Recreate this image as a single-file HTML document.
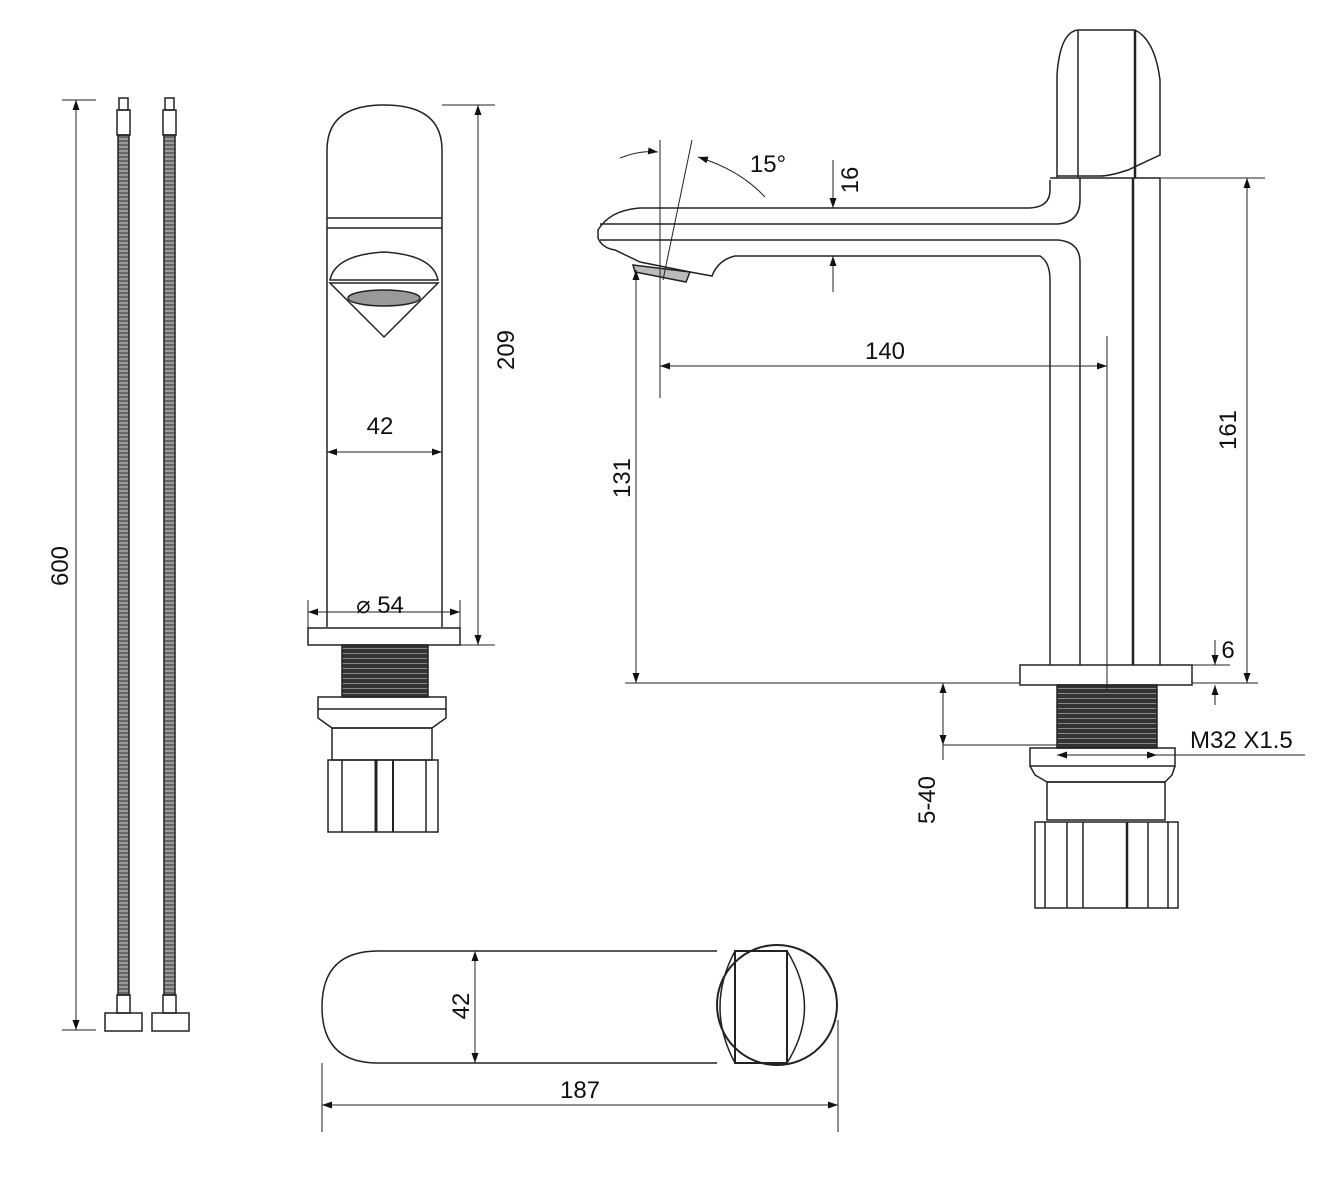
<!DOCTYPE html>
<html><head><style>html,body{margin:0;padding:0;background:#fff}svg{display:block}text{font-family:"Liberation Sans",sans-serif;font-size:24px;fill:#111}</style></head><body>
<svg width="1338" height="1204" viewBox="0 0 1338 1204" xmlns="http://www.w3.org/2000/svg">
<defs>
<marker id="a" viewBox="0 0 10 10" refX="10" refY="5" markerWidth="10" markerHeight="10" orient="auto-start-reverse" markerUnits="userSpaceOnUse"><path d="M0,1.5L10,5L0,8.5z" fill="#111"/></marker>
<pattern id="th" width="8" height="5" patternUnits="userSpaceOnUse"><rect width="8" height="5" fill="#333"/><rect y="3" width="8" height="1" fill="#888"/></pattern>
<pattern id="hose" width="4" height="4" patternUnits="userSpaceOnUse"><rect width="4" height="4" fill="#999"/><rect width="4" height="2" fill="#666"/></pattern>
</defs>
<g fill="none" stroke="#222" stroke-width="1.5">
<!-- hoses -->
<line x1="62" y1="100" x2="96" y2="100" stroke-width="1"/><line x1="62" y1="1030" x2="96" y2="1030" stroke-width="1"/>
<line x1="76" y1="100" x2="76" y2="1030" stroke-width="1" marker-start="url(#a)" marker-end="url(#a)"/>
<rect x="118" y="135" width="11" height="860" fill="url(#hose)"/>
<rect x="164" y="135" width="11" height="860" fill="url(#hose)"/>
<rect x="119" y="98" width="9" height="12"/><rect x="165" y="98" width="9" height="12"/>
<rect x="117" y="110" width="13" height="25"/><rect x="163" y="110" width="13" height="25"/>
<rect x="117" y="995" width="13" height="18"/><rect x="163" y="995" width="13" height="18"/>
<rect x="105" y="1013" width="37" height="18"/><rect x="152" y="1013" width="37" height="18"/>
<!-- front view -->
<path d="M327,627 L327,150 Q327,105 384,105 Q442,105 442,150 L442,627"/>
<line x1="327" y1="218" x2="442" y2="218"/><line x1="327" y1="228" x2="442" y2="228"/>
<path d="M330,280 Q335,255 384,252 Q433,255 438,280 Z"/>
<path d="M330,283 L438,283 L384,337 Z"/>
<ellipse cx="384" cy="298" rx="36" ry="8" fill="#999"/>
<rect x="308" y="628" width="152" height="17"/>
<rect x="342" y="645" width="86" height="52" fill="url(#th)"/>
<rect x="318" y="697" width="128" height="12"/>
<path d="M318,709 L318,718 L332,728 L432,728 L446,718 L446,709"/>
<rect x="332" y="728" width="100" height="32"/>
<rect x="328" y="760" width="110" height="72"/>
<line x1="342" y1="760" x2="342" y2="832"/><line x1="376" y1="760" x2="376" y2="832" stroke-width="3"/><line x1="393" y1="760" x2="393" y2="832" stroke-width="2"/><line x1="426" y1="760" x2="426" y2="832"/>
<line x1="442" y1="105" x2="495" y2="105" stroke-width="1"/><line x1="460" y1="645" x2="495" y2="645" stroke-width="1"/>
<line x1="478" y1="105" x2="478" y2="645" stroke-width="1" marker-start="url(#a)" marker-end="url(#a)"/>
<line x1="327" y1="452" x2="442" y2="452" stroke-width="1" marker-start="url(#a)" marker-end="url(#a)"/>
<line x1="308" y1="600" x2="308" y2="628" stroke-width="1"/><line x1="460" y1="600" x2="460" y2="628" stroke-width="1"/>
<line x1="308" y1="612" x2="460" y2="612" stroke-width="1" marker-start="url(#a)" marker-end="url(#a)"/>
<!-- side view -->
<path d="M1057,178 L1057,75 Q1060,32 1078,30 L1135,30 Q1155,40 1160,80 L1160,155 L1128,170 Q1110,176 1100,176 L1057,176"/>
<line x1="1078" y1="30" x2="1078" y2="178"/><line x1="1135" y1="30" x2="1135" y2="178" stroke-width="2.5"/>
<line x1="1050" y1="178" x2="1160" y2="178"/>
<path d="M1133,178 L1133,665" stroke-width="2.5"/><line x1="1160" y1="178" x2="1160" y2="665"/>
<path d="M1050,180 L1050,190 Q1050,207 1030,208 L640,208 Q610,210 598,230 L598,238 Q602,248 615,250 L640,262 L690,272 L712,276 Q718,260 735,256 L1040,256 Q1050,262 1050,280 L1050,665"/>
<path d="M1080,178 L1080,200 Q1080,222 1058,224 L600,224"/>
<path d="M600,240 L1058,240 Q1080,242 1080,262 L1080,665"/>
<path d="M633,265 L690,272 L686,282 L635,272 Z" fill="#bbb"/>
<rect x="1020" y="665" width="172" height="20"/>
<rect x="1057" y="685" width="100" height="63" fill="url(#th)"/>
<rect x="1030" y="748" width="145" height="18"/>
<path d="M1030,766 L1035,775 L1047,782 L1165,782 L1172,775 L1175,766"/>
<rect x="1047" y="782" width="118" height="38"/>
<rect x="1035" y="822" width="143" height="86"/>
<line x1="1045" y1="822" x2="1045" y2="908"/><line x1="1067" y1="822" x2="1067" y2="908"/><line x1="1083" y1="822" x2="1083" y2="908"/><line x1="1127" y1="822" x2="1127" y2="908" stroke-width="2.5"/><line x1="1148" y1="822" x2="1148" y2="908"/><line x1="1168" y1="822" x2="1168" y2="908"/>
<g stroke-width="1">
<line x1="625" y1="683" x2="1020" y2="683"/><line x1="1192" y1="683" x2="1258" y2="683"/>
<line x1="1160" y1="178" x2="1265" y2="178"/>
<line x1="1247" y1="178" x2="1247" y2="683" marker-start="url(#a)" marker-end="url(#a)"/>
<line x1="636" y1="270" x2="636" y2="683" marker-start="url(#a)" marker-end="url(#a)"/>
<line x1="660" y1="140" x2="660" y2="398"/><line x1="1107" y1="336" x2="1107" y2="690"/>
<line x1="660" y1="366" x2="1107" y2="366" marker-start="url(#a)" marker-end="url(#a)"/>
<line x1="692" y1="140" x2="663" y2="280"/>
<path d="M620,158 Q640,150 658,152" marker-end="url(#a)"/>
<path d="M765,197 Q740,170 698,157" marker-end="url(#a)"/>
<line x1="833" y1="160" x2="833" y2="208" marker-end="url(#a)"/><line x1="833" y1="292" x2="833" y2="256" marker-end="url(#a)"/>
<line x1="1215" y1="640" x2="1215" y2="665" marker-end="url(#a)"/><line x1="1192" y1="665" x2="1230" y2="665"/>
<line x1="1215" y1="705" x2="1215" y2="685" marker-end="url(#a)"/>
<line x1="943" y1="683" x2="943" y2="745" marker-start="url(#a)" marker-end="url(#a)"/>
<line x1="943" y1="745" x2="1057" y2="745"/><line x1="943" y1="745" x2="943" y2="760"/>
<line x1="1057" y1="755" x2="1157" y2="755" marker-start="url(#a)" marker-end="url(#a)"/><line x1="1157" y1="755" x2="1305" y2="755"/>
</g>
<!-- top view -->
<path d="M717,951 L378,951 Q322,951 322,1007 Q322,1063 378,1063 L717,1063"/>
<circle cx="777" cy="1005" r="60" stroke-width="2"/>
<rect x="735" y="951" width="52" height="112" stroke-width="2"/>
<path d="M735,951 Q705,1007 735,1063"/>
<path d="M787,951 Q822,1007 787,1063"/>
<g stroke-width="1">
<line x1="475" y1="951" x2="475" y2="1063" marker-start="url(#a)" marker-end="url(#a)"/>
<line x1="322" y1="1063" x2="322" y2="1132"/><line x1="838" y1="1020" x2="838" y2="1132"/>
<line x1="322" y1="1105" x2="838" y2="1105" marker-start="url(#a)" marker-end="url(#a)"/>
</g>
</g>
<text x="60" y="566" text-anchor="middle" transform="rotate(-90 60 566)" dy="8">600</text>
<text x="380" y="434" text-anchor="middle">42</text>
<text x="380" y="613" text-anchor="middle">⌀ 54</text>
<text x="506" y="350" text-anchor="middle" transform="rotate(-90 506 350)" dy="8">209</text>
<text x="768" y="172" text-anchor="middle">15°</text>
<text x="850" y="180" text-anchor="middle" transform="rotate(-90 850 180)" dy="8">16</text>
<text x="885" y="359" text-anchor="middle">140</text>
<text x="622" y="478" text-anchor="middle" transform="rotate(-90 622 478)" dy="8">131</text>
<text x="1228" y="430" text-anchor="middle" transform="rotate(-90 1228 430)" dy="8">161</text>
<text x="1228" y="658" text-anchor="middle">6</text>
<text x="1190" y="748">M32 X1.5</text>
<text x="927" y="800" text-anchor="middle" transform="rotate(-90 927 800)" dy="8">5-40</text>
<text x="461" y="1006" text-anchor="middle" transform="rotate(-90 461 1006)" dy="8">42</text>
<text x="580" y="1098" text-anchor="middle">187</text>
</svg>
</body></html>
